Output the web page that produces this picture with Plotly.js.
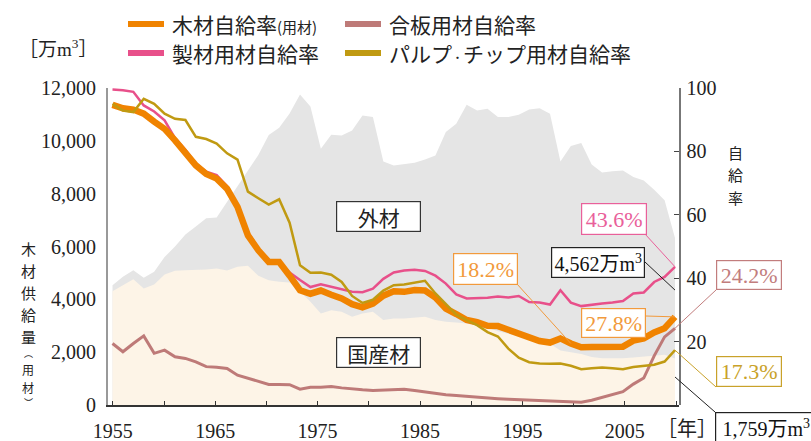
<!DOCTYPE html>
<html>
<head>
<meta charset="utf-8">
<script src="https://cdn.plot.ly/plotly-3.0.1.min.js"></script>
<style>html,body{margin:0;padding:0;background:#fff;}#chart{width:811px;height:441px;}</style>
</head>
<body>
<div id="chart"></div>
<script>
// ---- data ----
const years = [1955,1956,1957,1958,1959,1960,1961,1962,1963,1964,1965,1966,1967,1968,1969,1970,1971,1972,1973,1974,1975,1976,1977,1978,1979,1980,1981,1982,1983,1984,1985,1986,1987,1988,1989,1990,1991,1992,1993,1994,1995,1996,1997,1998,1999,2000,2001,2002,2003,2004,2005,2006,2007,2008,2009];
// total supply (万m3): domestic + imported
const totalSupply = [4536,4851,5103,4813,5040,5600,6000,6450,6753,7069,7094,7699,8266,8895,9463,10219,10496,11038,11758,11300,9700,10230,10205,10393,10960,10898,9221,9070,9133,9170,9297,9448,10330,10646,11364,11149,11212,10898,10898,10987,11187,11237,11024,9221,9800,9920,9100,8800,8850,8880,8630,8500,8150,7750,6321];
// domestic supply (万m3)
const domesticSupply = [4309,4536,4763,4410,4561,4940,5078,5103,5103,5129,5166,5091,5229,5267,4889,4725,4662,4637,4300,3906,3465,3591,3528,3339,3465,3528,3213,3276,3276,3301,3339,3213,3150,3125,3087,3000,2920,2790,2700,2600,2480,2420,2320,2060,2000,1930,1820,1770,1770,1770,1800,1830,1880,1900,1759];
// self-sufficiency rates (%)
const woodRate = [94.7,93.6,93.2,91.9,89.4,87.1,83.5,79.8,75.6,72.9,71.4,68.2,62.5,53.5,48.8,45.1,45.1,40.8,36.2,35.1,36.1,34.8,33.6,31.8,30.8,32.0,34.5,35.9,35.7,36.3,36.1,33.9,30.4,28.7,26.8,26.1,25.0,24.9,23.6,22.6,21.0,20.2,19.7,21.0,19.4,18.2,18.3,18.2,18.4,18.4,20.3,21.0,22.9,24.2,27.8];
const sawnRate = [99.5,99.3,98.8,94.5,92.6,89.8,84.2,80.5,76.2,73.6,72.5,69.0,63.0,54.5,49.4,45.6,45.4,41.8,39.4,37.2,38.1,37.3,36.4,35.7,35.6,36.7,39.8,41.8,42.4,42.7,42.3,40.8,38.3,34.9,33.6,33.6,33.8,34.2,33.9,34.4,32.5,32.3,31.7,36.2,32.3,31.2,31.7,32.0,32.3,32.8,35.2,35.5,38.8,40.4,43.6];
const plywoodRate = [19.4,16.8,19.4,21.8,16.3,17.3,15.2,14.7,13.6,12.1,11.9,11.5,9.4,8.4,7.6,6.5,6.5,6.4,5.0,5.6,5.6,5.8,5.4,5.0,4.8,4.6,4.7,4.8,5.0,4.6,4.1,3.6,3.2,3.0,2.7,2.4,2.2,2.0,1.8,1.7,1.6,1.5,1.3,1.2,1.0,0.9,1.5,2.4,3.2,4.2,6.6,8.5,15.5,21.5,24.2];
const pulpRate = [95.0,92.9,92.4,96.6,95.0,91.9,90.3,89.9,84.6,83.9,82.5,79.4,77.4,67.3,65.2,63.2,64.9,57.5,44.1,41.7,41.8,41.1,38.8,34.4,32.2,33.2,36.1,37.8,38.0,38.6,39.2,35.2,31.8,28.5,26.8,25.2,23.0,21.6,17.8,14.9,13.5,13.1,13.0,13.1,12.4,11.3,11.6,11.8,11.6,11.3,12.0,12.4,12.7,13.7,17.3];

const xTickVals = [1955,1965,1975,1985,1995,2005];
const xTickText = ['1955','1965','1975','1985','1995','2005'];
const leftTickVals = [0,2000,4000,6000,8000,10000,12000];
const leftTickText = ['0','2,000','4,000','6,000','8,000','10,000','12,000'];
const gridVals = [2000,4000,6000,8000,10000];
const rightTickVals = [20,40,60,80,100];

const seriesNames = ['木材自給率<span style="font-size:15px">(用材)</span>','合板用材自給率','製材用材自給率','パルプ<span style="font-size:11px">・</span>チップ用材自給率'];

// ---- styles ----
const C = {orange:'#F08300', pink:'#E8508A', rose:'#BE7A78', olive:'#C09A12',
           gray:'#E5E5E5', beige:'#FDF4E7',
           orangeT:'#F29A3C', pinkT:'#E9609A', roseT:'#C27D7D', oliveT:'#C9A22A'};
const SERIF = 'Liberation Serif, Noto Sans CJK JP, serif';
const JP = 'Noto Sans CJK JP, sans-serif';

const L=108, T=88, W=571, H=317;
const XR = [1954.568, 2009.383];
const XR_LABEL = [1954.531, 2010.293];
const px = x => (x-L)/W;
const py = y => (T+H-y)/H;
const dataPX = yr => L + (yr-XR[0])/(XR[1]-XR[0])*W;
const pctPY = v => T+H - v/100*H;
const volPY = v => T+H - v/12000*H;

const traces = [
  {x:years, y:totalSupply, xaxis:'x', yaxis:'y', type:'scatter', mode:'lines', fill:'tozeroy',
   fillcolor:C.gray, line:{width:0, color:'rgba(0,0,0,0)'}, hoverinfo:'skip', showlegend:false},
  {x:years, y:domesticSupply, xaxis:'x', yaxis:'y', type:'scatter', mode:'lines', fill:'tozeroy',
   fillcolor:C.beige, line:{width:0, color:'rgba(0,0,0,0)'}, hoverinfo:'skip', showlegend:false},
  {x:[], y:[], xaxis:'x3', yaxis:'y', type:'scatter', mode:'lines', hoverinfo:'skip', showlegend:false},
  {x:years, y:plywoodRate, xaxis:'x2', yaxis:'y3', type:'scatter', mode:'lines', line:{color:C.rose, width:3}, showlegend:false},
  {x:years, y:sawnRate, xaxis:'x2', yaxis:'y3', type:'scatter', mode:'lines', line:{color:C.pink, width:2.5}, showlegend:false},
  {x:years, y:woodRate, xaxis:'x2', yaxis:'y3', type:'scatter', mode:'lines', line:{color:C.orange, width:6.5}, showlegend:false},
  {x:years, y:pulpRate, xaxis:'x2', yaxis:'y3', type:'scatter', mode:'lines', line:{color:C.olive, width:2.5}, showlegend:false}
];

const annotations = [];
const shapes = [];
function box(text, cx, cy, w, h, color, border, font, size){
  annotations.push({xref:'paper', yref:'paper', x:px(cx), y:py(cy), xanchor:'center', yanchor:'middle',
    text:text, showarrow:false, width:w-2, height:h-2, borderpad:0, bgcolor:'#fff',
    bordercolor:border, borderwidth:1.2, font:{family:font, size:size, color:color}});
}
// leader line from a label box to a point of the data (head given in data units)
function pointer(hx, hy, kind, tailX, tailY, color){
  const hpx = dataPX(hx);
  const hpy = kind==='pct' ? pctPY(hy) : volPY(hy);
  shapes.push({type:'line', xref:'paper', yref:'paper', x0:px(tailX), y0:py(tailY), x1:px(hpx), y1:py(hpy),
    line:{color:color, width:1}, layer:'above'});
}
function label(text, x, y, size, font, anchor){
  annotations.push({xref:'paper', yref:'paper', x:px(x), y:py(y), xanchor:anchor||'center', yanchor:'middle',
    text:text, showarrow:false, font:{family:font, size:size, color:'#222'}});
}

const n = years.length-1;
const i1999 = years.indexOf(1999);
pointer(years[i1999], woodRate[i1999], 'pct', 517, 284, C.orangeT);
pointer(years[n], woodRate[n], 'pct', 646, 316, C.orangeT);
pointer(years[n], sawnRate[n], 'pct', 645, 234, C.pinkT);
pointer(years[n], plywoodRate[n], 'pct', 716, 290, C.roseT);
pointer(years[n], pulpRate[n], 'pct', 716, 387, C.oliveT);
pointer(years[n], 4350, 'vol', 645, 262, '#222');
pointer(years[n], 1060, 'vol', 715, 412, '#222');

box('外材', 378.5, 216.5, 85, 31, '#222', '#333', JP, 21);
box('国産材', 378.5, 352.5, 85, 31, '#222', '#333', JP, 21);
box('18.2%', 485.5, 269, 65, 32, C.orangeT, C.orangeT, SERIF, 22);
box('27.8%', 613.5, 323, 65, 30, C.orangeT, C.orangeT, SERIF, 22);
box('43.6%', 614, 219, 66, 32, C.pinkT, C.pinkT, SERIF, 22);
box('4,562万m<sup>3</sup>', 598, 262.5, 94, 31, '#111', '#222', SERIF, 20);
box('24.2%', 749, 275, 66, 30, C.roseT, C.roseT, SERIF, 22);
box('17.3%', 749, 371.5, 66, 31, C.oliveT, C.oliveT, SERIF, 22);
box('1,759万m<sup>3</sup>', 766, 428, 102, 32, '#111', '#222', SERIF, 20);

// unit labels
label('［万m<sup>3</sup>］', 58, 48, 19, SERIF);
label('［年］', 687, 429, 20, SERIF);
// left vertical title (stacked characters, one per line slot)
['木','材','供','給','量'].forEach((c,i)=>label(c, 28, 249+i*21.8, 15, JP));
label('︵', 28, 353.5, 9, JP);
label('用', 28, 369, 12, JP);
label('材', 28, 387, 12, JP);
label('︶', 28, 402.5, 9, JP);
// right vertical title
['自','給','率'].forEach((c,i)=>label(c, 735, 152.5+i*22.4, 15, JP));

// legend
const legendPos = [[128,24],[345,24],[128,53],[345,53]];
const legendColors = [C.orange, C.rose, C.pink, C.olive];
legendPos.forEach((p,i)=>{
  shapes.push({type:'line', xref:'paper', yref:'paper', x0:px(p[0]), x1:px(p[0]+36), y0:py(p[1]), y1:py(p[1]),
    line:{color:legendColors[i], width:6}});
  label(seriesNames[i], p[0]+42, p[1], 21, JP, 'left');
});

const layout = {
  width:811, height:441,
  margin:{l:L, r:811-L-W, t:T, b:441-T-H},
  paper_bgcolor:'#fff', plot_bgcolor:'rgba(0,0,0,0)',
  showlegend:false,
  xaxis:{range:XR, domain:[0,1], anchor:'y', showline:true, linecolor:'#333', linewidth:1.5,
    ticks:'', showticklabels:false, showgrid:false, zeroline:false, fixedrange:true},
  xaxis2:{range:XR, domain:[0,1], anchor:'y2', visible:false, fixedrange:true},
  xaxis3:{range:XR_LABEL, overlaying:'x', anchor:'y', side:'bottom', showline:false, showgrid:false, zeroline:false,
    tickmode:'array', tickvals:xTickVals, ticktext:xTickText, ticks:'inside', ticklen:4, tickwidth:1, tickcolor:'#333',
    minor:{tick0:1955, dtick:5, ticks:'inside', ticklen:4, tickwidth:1, tickcolor:'#333', showgrid:false},
    ticklabelstandoff:12, tickfont:{family:SERIF, size:20, color:'#222'}, fixedrange:true},
  yaxis:{range:[0,12000], domain:[0,1], anchor:'x', showline:true, linecolor:'#999', linewidth:2,
    ticks:'', tickmode:'array', tickvals:leftTickVals, ticktext:leftTickText, ticklabelstandoff:6,
    showgrid:false, zeroline:false, tickfont:{family:SERIF, size:20, color:'#222'}, fixedrange:true},
  yaxis2:{range:[0,12000], domain:[0,1], anchor:'x2', showline:false, ticks:'', showticklabels:false,
    tickmode:'array', tickvals:gridVals, showgrid:true, gridcolor:'#8a8a8a', gridwidth:1, griddash:'dash',
    zeroline:false, fixedrange:true},
  yaxis3:{range:[0,100], overlaying:'y2', anchor:'x2', side:'right', showline:true, linecolor:'#777', linewidth:1.5,
    ticks:'inside', ticklen:5, tickcolor:'#444', tickmode:'array', tickvals:rightTickVals, ticklabelstandoff:2,
    showgrid:false, zeroline:false, tickfont:{family:SERIF, size:20, color:'#222'}, fixedrange:true},
  annotations:annotations,
  shapes:shapes
};

Plotly.newPlot('chart', traces, layout, {displayModeBar:false, staticPlot:true}).then(gd => {
  // drop empty placeholder text nodes (unused axis/plot titles)
  gd.querySelectorAll('text').forEach(t => { if(!t.textContent.trim()) t.remove(); });
});
</script>
</body>
</html>
